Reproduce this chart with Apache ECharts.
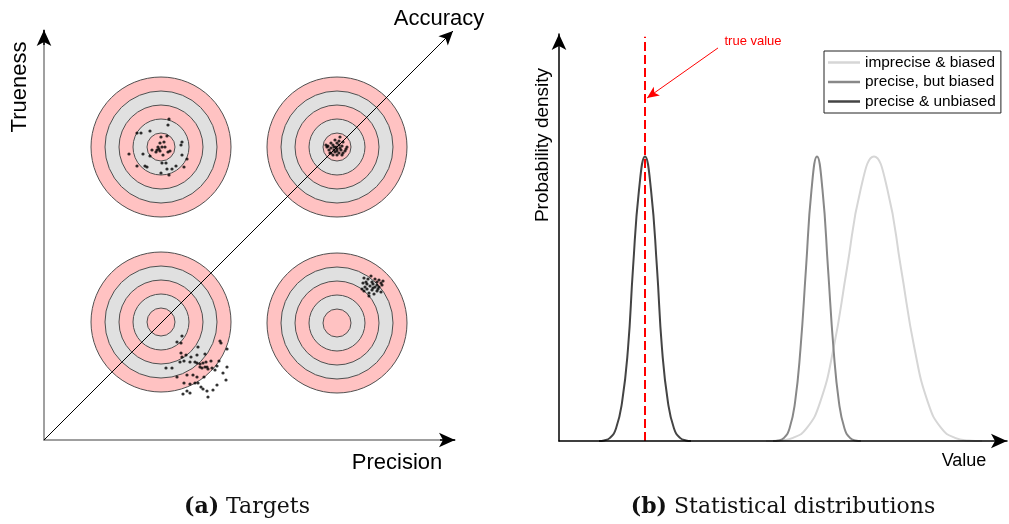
<!DOCTYPE html>
<html>
<head>
<meta charset="utf-8">
<script src="https://cdn.jsdelivr.net/npm/echarts@6/dist/echarts.min.js"></script>
<style>html,body{margin:0;padding:0;background:#fff}#c{width:1009px;height:524px}</style>
</head>
<body>
<div id="c"></div>
<script>
// ---------- Panel (a): targets ----------
const targetCenters = [[117,293],[293,293],[117,118],[293,117]];
const ringRadii = [70,56,42,28,14];
const shotsTL = [[125,321],[124,315],[93,307],[97,307],[106,309],[123,304],[117,303],[120,298],[116,297],[138,298],[137,295],[114,293],[118,293],[115,291],[116,289],[113,290],[108,290],[112,288],[124,288],[126,289],[119,285],[106,284],[99,286],[85,286],[138,285],[143,281],[132,274],[118,277],[122,277],[101,274],[103,273],[93,274],[123,271],[128,271],[117,267],[125,265],[140,273],[121,293]];
const shotsTR = [[296,303],[291,300],[299,298],[287,297],[293,297],[284,294],[289,295],[295,295],[298,294],[283,293],[287,292],[292,293],[296,292],[303,293],[285,290],[290,290],[293,291],[297,290],[301,289],[287,287],[291,288],[295,287],[299,287],[289,285],[293,285],[302,291],[282,295],[295,299],[290,293],[293,289],[298,285],[286,287]];
const shotsBL = [[138,104],[133,98],[137,97],[154,93],[176,99],[177,97],[183,91],[137,87],[142,85],[147,83],[153,85],[161,86],[138,83],[140,79],[136,78],[146,78],[151,78],[153,77],[156,76],[159,77],[162,78],[167,79],[175,79],[173,74],[183,73],[156,73],[158,72],[161,73],[163,73],[164,71],[122,72],[128,72],[133,63],[143,65],[149,65],[153,63],[160,63],[179,67],[182,60],[173,55],[140,57],[146,56],[151,57],[154,57],[159,51],[163,49],[169,50],[143,49],[139,46],[146,47],[164,43],[157,53],[168,72],[171,70]];
const shotsBR = [[327,164],[320,162],[324,161],[331,161],[335,160],[339,159],[322,158],[328,158],[333,158],[337,157],[319,157],[323,156],[329,156],[333,155],[338,155],[321,153],[326,154],[331,153],[335,153],[318,151],[323,151],[328,150],[333,149],[337,148],[325,147],[330,146],[320,149],[334,151],[329,152],[325,144]];
const accuracyLine = [[0,0],[409,409]];
const axisArrowY = [[0,395],[0,410]];
const axisArrowX = [[396,0],[411,0]];

// ---------- Panel (b): distributions ----------
const seriesNames = ['imprecise & biased','precise, but biased','precise & unbiased'];
const impreciseBiased = [[207,0],[220.5,0.002],[234,0.011],[247.5,0.044],[261,0.135],[274.5,0.325],[288,0.607],[301.5,0.882],[315,1],[328.5,0.882],[342,0.607],[355.5,0.325],[369,0.135],[382.5,0.044],[396,0.011],[409.5,0.002],[423,0]];
const preciseBiased = [[214,0],[219.5,0.002],[225,0.011],[230.5,0.044],[236,0.135],[241.5,0.325],[247,0.607],[252.5,0.882],[258,1],[263.5,0.882],[269,0.607],[274.5,0.325],[280,0.135],[285.5,0.044],[291,0.011],[296.5,0.002],[302,0]];
const preciseUnbiased = [[40,0],[45,0.002],[51,0.011],[57,0.044],[63,0.135],[69,0.325],[74,0.607],[80,0.882],[86,1],[92,0.882],[98,0.607],[103,0.325],[109,0.135],[115,0.044],[121,0.011],[127,0.002],[132,0]];
const trueValue = 86;
const trueLineTop = 1.42;
const trueArrow = [[159,1.381],[88,1.205]];

const pink = '#ffc2c2', gray = '#e0e0e0';
const SANS = 'Liberation Sans, Arial, sans-serif';
const SERIF = 'DejaVu Serif, serif';

const chart = echarts.init(document.getElementById('c'), null, {renderer:'canvas'});

const plainAxis = (grid, max, color, arrow, z) => ({
  gridIndex: grid, type:'value', min:0, max:max, z:z,
  axisLine:{show:true, onZero:false, symbol: arrow ? ['none','arrow'] : 'none', symbolSize:[11,16], lineStyle:{color:color, width:1.5}},
  axisTick:{show:false}, axisLabel:{show:false}, splitLine:{show:false}
});

const option = {
  animation:false,
  grid:[
    {left:44, top:30, width:411, height:410},
    {left:559, top:34, width:448, height:407}
  ],
  xAxis:[plainAxis(0,411,'#808080',false,0), plainAxis(1,448,'#000',true,10)],
  yAxis:[plainAxis(0,410,'#808080',false,0), plainAxis(1,1.43,'#000',true,10)],
  legend:{
    data: seriesNames,
    orient:'vertical', left:824, top:51,
    padding:[4,5,4,4], itemGap:4.5,
    itemWidth:32, itemHeight:2.5, icon:'rect',
    borderColor:'#222', borderWidth:1,
    textStyle:{fontSize:15.4, fontFamily:SANS, color:'#000'},
    selectedMode:false
  },
  series:[
    {
      type:'custom', name:'targets', xAxisIndex:0, yAxisIndex:0, z:1, silent:true,
      data: targetCenters,
      renderItem: function(params, api){
        const c = api.coord([api.value(0), api.value(1)]);
        return {type:'group', children: ringRadii.map(function(r,i){
          return {type:'circle', shape:{cx:c[0], cy:c[1], r:api.size([r,0])[0]},
            style:{fill: i%2===0 ? pink : gray, stroke:'#505050', lineWidth:1}};
        })};
      }
    },
    {
      type:'line', name:'accuracy', xAxisIndex:0, yAxisIndex:0, z:2, silent:true,
      data: accuracyLine, symbol:'none', lineStyle:{color:'#000', width:1},
      markLine:{
        silent:true, symbol:['none','arrow'], symbolSize:[10,14],
        label:{show:false}, lineStyle:{color:'#000', width:1, type:'solid'},
        data:[
          [{coord:accuracyLine[0]},{coord:accuracyLine[1]}],
          [{coord:axisArrowY[0], symbolSize:[11,16], lineStyle:{width:1.5}},{coord:axisArrowY[1], symbolSize:[11,16]}],
          [{coord:axisArrowX[0], symbolSize:[11,16], lineStyle:{width:1.5}},{coord:axisArrowX[1], symbolSize:[11,16]}]
        ]
      }
    },
    {
      type:'scatter', name:'shots', xAxisIndex:0, yAxisIndex:0, z:3, silent:true,
      symbolSize:3.2, itemStyle:{color:'#000'},
      data: shotsTL.concat(shotsTR, shotsBL, shotsBR)
    },
    {
      type:'line', name:seriesNames[0], xAxisIndex:1, yAxisIndex:1, z:2,
      data: impreciseBiased, smooth:true, symbol:'none',
      lineStyle:{color:'#d6d6d6', width:2}, itemStyle:{color:'#d6d6d6'}
    },
    {
      type:'line', name:seriesNames[1], xAxisIndex:1, yAxisIndex:1, z:3,
      data: preciseBiased, smooth:true, symbol:'none',
      lineStyle:{color:'#888888', width:2}, itemStyle:{color:'#888888'}
    },
    {
      type:'line', name:seriesNames[2], xAxisIndex:1, yAxisIndex:1, z:4,
      data: preciseUnbiased, smooth:true, symbol:'none',
      lineStyle:{color:'#444444', width:2}, itemStyle:{color:'#444444'}
    },
    {
      type:'line', name:'true value', xAxisIndex:1, yAxisIndex:1, z:5, silent:true,
      data:[[trueValue,0],[trueValue,trueLineTop]], symbol:'none',
      lineStyle:{color:'#ff0000', width:2, type:[9,4]},
      markLine:{
        silent:true, symbol:['none','arrow'], symbolSize:[8,12],
        label:{show:false}, lineStyle:{color:'#ff0000', width:1, type:'solid'},
        data:[[{coord:trueArrow[0]},{coord:trueArrow[1]}]]
      }
    }
  ],
  graphic:[
    {type:'text', x:20, y:87, rotation:Math.PI/2, style:{text:'Trueness', fontSize:22, fontFamily:SANS, fill:'#000', align:'center', verticalAlign:'middle'}},
    {type:'text', x:439, y:19, style:{text:'Accuracy', fontSize:22, fontFamily:SANS, fill:'#000', align:'center', verticalAlign:'middle'}},
    {type:'text', x:397, y:463, style:{text:'Precision', fontSize:22, fontFamily:SANS, fill:'#000', align:'center', verticalAlign:'middle'}},
    {type:'text', x:543, y:145, rotation:Math.PI/2, style:{text:'Probability density', fontSize:19, fontFamily:SANS, fill:'#000', align:'center', verticalAlign:'middle'}},
    {type:'text', x:964, y:461, style:{text:'Value', fontSize:18, fontFamily:SANS, fill:'#000', align:'center', verticalAlign:'middle'}},
    {type:'text', x:753, y:41, style:{text:'true value', fontSize:13, fontFamily:SANS, fill:'#ff0000', align:'center', verticalAlign:'middle'}},
    {type:'text', x:247, y:507, style:{text:'{b|(a)} Targets', fontSize:22, fontFamily:SERIF, fill:'#111', align:'center', verticalAlign:'middle',
      rich:{b:{fontWeight:'bold', fontSize:22, fontFamily:SERIF, fill:'#111'}}}},
    {type:'text', x:783, y:507, style:{text:'{b|(b)} Statistical distributions', fontSize:22, fontFamily:SERIF, fill:'#111', align:'center', verticalAlign:'middle',
      rich:{b:{fontWeight:'bold', fontSize:22, fontFamily:SERIF, fill:'#111'}}}}
  ]
};
chart.setOption(option);
</script>
</body>
</html>
